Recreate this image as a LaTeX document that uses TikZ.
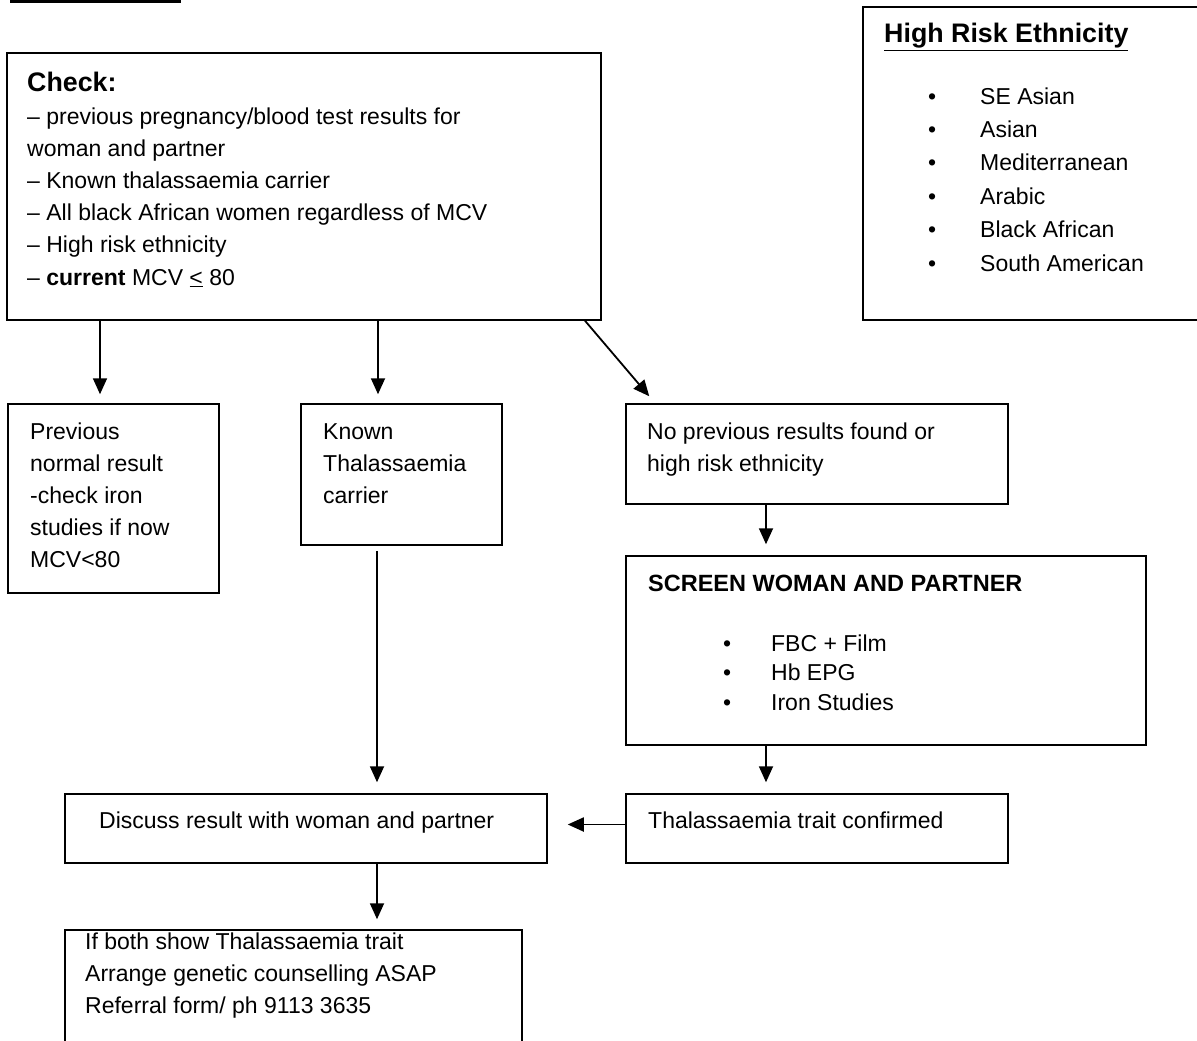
\documentclass[tikz,border=0pt]{standalone}
\usepackage{fontspec}
\setmainfont{Liberation Sans}
\usetikzlibrary{arrows.meta}
\begin{document}
\begin{tikzpicture}[x=1pt,y=-1pt,
  box/.style={draw, rectangle, line width=1.5pt, inner sep=0pt},
  txt/.style={anchor=base west, inner sep=0pt, align=left},
  arr/.style={line width=1.8pt, -{Triangle[length=16pt,width=14pt]}}]
\useasboundingbox (0,0) rectangle (1197,1041);
\clip (0,0) rectangle (1197,1041);
\fontsize{23pt}{32pt}\selectfont
% cut-off heading bar
\fill[black] (10,-5) rectangle (181,3);
% boxes
\node[box, minimum width=594pt, minimum height=267pt] (check) at (304,186.5) {};
\node[box, minimum width=360pt, minimum height=313pt] (hre) at (1043,163.5) {};
\node[box, minimum width=211pt, minimum height=189pt] (prev) at (113.5,498.5) {};
\node[box, minimum width=201pt, minimum height=141pt] (known) at (401.5,474.5) {};
\node[box, minimum width=382pt, minimum height=100pt] (nopr) at (817,454) {};
\node[box, minimum width=520pt, minimum height=189pt] (screen) at (886,650.5) {};
\node[box, minimum width=382pt, minimum height=69pt] (thal) at (817,828.5) {};
\node[box, minimum width=482pt, minimum height=69pt] (disc) at (306,828.5) {};
\node[box, minimum width=457pt, minimum height=160pt] (last) at (293.5,1010) {};
% texts (base anchor of a multi-line node = baseline of its last line)
\node[txt, font=\fontsize{23pt}{32.2pt}\selectfont] (checkt) at (27,285) {{\fontsize{26.8pt}{32.2pt}\selectfont\textbf{Check:}}\\
– previous pregnancy/blood test results for\\
woman and partner\\
– Known thalassaemia carrier\\
– All black African women regardless of MCV\\
– High risk ethnicity\\
– \textbf{current} MCV \underline{<} 80};
\node[txt, font=\fontsize{26.8pt}{32pt}\selectfont] (hret) at (884,43) {\textbf{\underline{High Risk Ethnicity}}};
\node[txt, font=\fontsize{23pt}{33.4pt}\selectfont] (hrel) at (928,271) {%
\makebox[52pt][l]{\textbullet}SE Asian\\
\makebox[52pt][l]{\textbullet}Asian\\
\makebox[52pt][l]{\textbullet}Mediterranean\\
\makebox[52pt][l]{\textbullet}Arabic\\
\makebox[52pt][l]{\textbullet}Black African\\
\makebox[52pt][l]{\textbullet}South American};
\node[txt] (prevt) at (30,567) {Previous\\normal result\\-check iron\\studies if now\\MCV<80};
\node[txt] (knownt) at (323,503) {Known\\Thalassaemia\\carrier};
\node[txt] (noprt) at (647,471) {No previous results found or\\high risk ethnicity};
\node[txt, font=\fontsize{23.5pt}{32pt}\selectfont] (screent) at (648,591) {\textbf{SCREEN WOMAN AND PARTNER}};
\node[txt, font=\fontsize{23pt}{29.5pt}\selectfont] (screenl) at (723,710) {%
\makebox[48pt][l]{\textbullet}FBC + Film\\
\makebox[48pt][l]{\textbullet}Hb EPG\\
\makebox[48pt][l]{\textbullet}Iron Studies};
\node[txt] (disct) at (99,828) {Discuss result with woman and partner};
\node[txt] (thalt) at (648,828) {Thalassaemia trait confirmed};
\node[txt] (lastt) at (85,1013) {If both show Thalassaemia trait\\Arrange genetic counselling ASAP\\Referral form/ ph 9113 3635};
% connectors
\draw[arr] ([xshift=-204pt]check.south) -- ([xshift=-13.5pt,yshift=9pt]prev.north);
\draw[arr] ([xshift=74pt]check.south) -- ([xshift=-23.5pt,yshift=9pt]known.north);
\draw[arr] ([xshift=281pt]check.south) -- ([xshift=24pt,yshift=7pt]nopr.north west);
\draw[arr] ([xshift=-51pt]nopr.south) -- ([xshift=-120pt,yshift=11pt]screen.north);
\draw[arr] ([xshift=-120pt]screen.south) -- ([xshift=-51pt,yshift=11pt]thal.north);
\draw[arr] ([xshift=-24.5pt,yshift=-5pt]known.south) -- ([xshift=71pt,yshift=11pt]disc.north);
\draw[arr] ([yshift=4pt]thal.west) -- ([xshift=20pt,yshift=4pt]disc.east);
\draw[arr] ([xshift=71pt]disc.south) -- ([xshift=83.5pt,yshift=10pt]last.north);
\end{tikzpicture}
\end{document}
